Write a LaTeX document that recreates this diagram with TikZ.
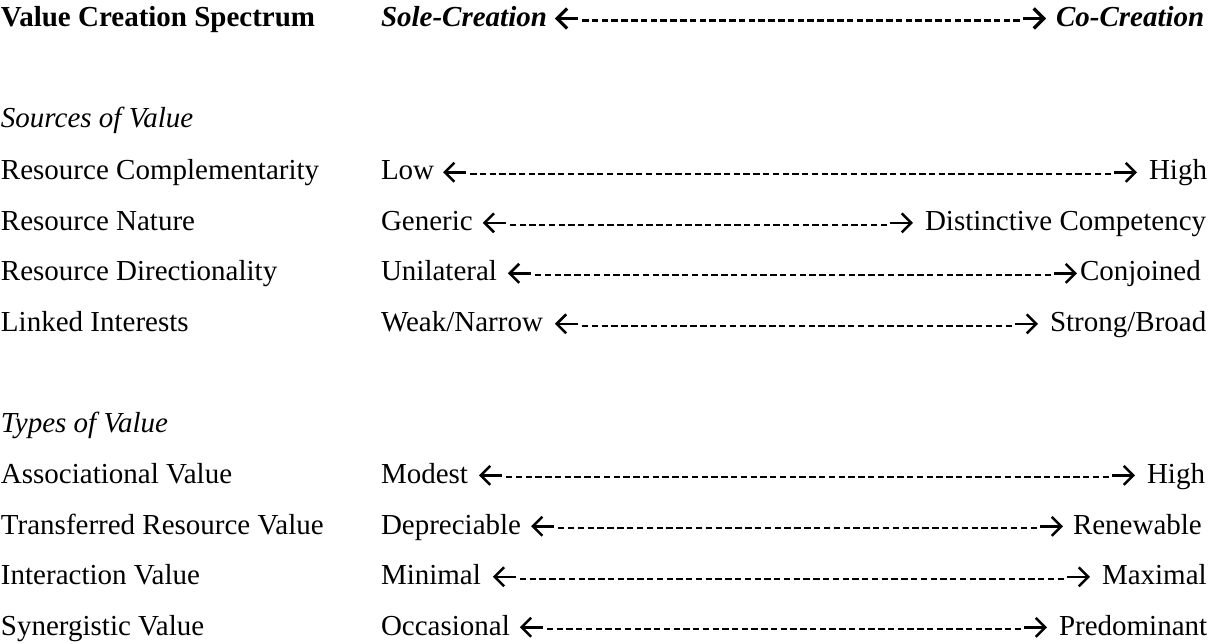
\documentclass[tikz,border=0pt]{standalone}
\usepackage{fontspec}
\setmainfont{Liberation Serif}
\usetikzlibrary{arrows.meta,calc}
\tikzset{
  x=1pt, y=1pt,
  txt/.style={anchor=base west, inner sep=0pt, outer sep=0pt, font=\fontsize{29}{35}\selectfont},
  headtxt/.style={txt, font=\fontsize{29}{35}\selectfont\bfseries},
  secttxt/.style={txt, font=\fontsize{29}{35}\selectfont\itshape},
  poletxt/.style={txt, font=\fontsize{29}{35}\selectfont\bfseries\itshape},
  arrowpart/.style={line width=2.5pt, -{Straight Barb[length=9.5pt,width=19pt]}},
  dashpart/.style={line width=2pt},
  boldarrowpart/.style={line width=3.2pt, -{Straight Barb[length=10pt,width=20pt]}},
  bolddashpart/.style={line width=3pt},
}
% #1 style, #2 start point, #3 end point, #4 dash length, #5 nominal period
\newcommand\evendash[5]{%
  \draw[#1] let \p1=#2, \p2=#3,
    \n1={int((\x2-\x1+#5-#4)/#5)},
    \n2={(\x2-\x1-\n1*#4)/(\n1-1)} in
    [dash pattern=on #4pt off \n2] (\p1) -- (\p2);
}
% #1 left node, #2 right node, #3 left gap, #4 right gap
\newcommand\rangeline[4]{%
  \draw[arrowpart] ([xshift=#3pt+23pt,yshift=7.7pt]#1.base east) -- ([xshift=#3pt,yshift=7.7pt]#1.base east);
  \draw[arrowpart] ([xshift=-#4pt-23pt,yshift=7.7pt]#2.base west) -- ([xshift=-#4pt,yshift=7.7pt]#2.base west);
  \evendash{dashpart}{([xshift=#3pt+27pt,yshift=5.8pt]#1.base east)}{([xshift=-#4pt-26pt,yshift=5.8pt]#2.base west)}{6.4}{9.67}
}
\begin{document}
\begin{tikzpicture}
\useasboundingbox (0,0) rectangle (1208,-644);
\clip (0,0) rectangle (1208,-644);

% header
\node[headtxt] (title) at (1,-27) {Value Creation Spectrum};
\node[poletxt] (sole) at (381,-27) {Sole-Creation};
\node[poletxt] (co) at (1056,-27) {Co-Creation};
\draw[boldarrowpart] ([xshift=31pt,yshift=8.5pt]sole.base east) -- ([xshift=8pt,yshift=8.5pt]sole.base east);
\draw[boldarrowpart] ([xshift=-33pt,yshift=8.5pt]co.base west) -- ([xshift=-10pt,yshift=8.5pt]co.base west);
\evendash{bolddashpart}{([xshift=35pt,yshift=6.8pt]sole.base east)}{([xshift=-36pt,yshift=6.8pt]co.base west)}{6.6}{9.67}

% Sources of Value
\node[secttxt] (sources) at (1,-128) {Sources of Value};

\node[txt] (rc) at (1,-180) {Resource Complementarity};
\node[txt] (rcl) at (381,-180) {Low};
\node[txt] (rcr) at (1149,-180) {High};
\rangeline{rcl}{rcr}{9}{12}

\node[txt] (rn) at (1,-230.5) {Resource Nature};
\node[txt] (rnl) at (381,-230.5) {Generic};
\node[txt] (rnr) at (925,-230.5) {Distinctive Competency};
\rangeline{rnl}{rnr}{10}{12}

\node[txt] (rd) at (1,-281) {Resource Directionality};
\node[txt] (rdl) at (381,-281) {Unilateral};
\node[txt] (rdr) at (1080,-281) {Conjoined};
\rangeline{rdl}{rdr}{11}{3}

\node[txt] (li) at (1,-331.5) {Linked Interests};
\node[txt] (lil) at (381,-331.5) {Weak/Narrow};
\node[txt] (lir) at (1050,-331.5) {Strong/Broad};
\rangeline{lil}{lir}{12}{12}

% Types of Value
\node[secttxt] (types) at (1,-432.5) {Types of Value};

\node[txt] (av) at (1,-483) {Associational Value};
\node[txt] (avl) at (381,-483) {Modest};
\node[txt] (avr) at (1147,-483) {High};
\rangeline{avl}{avr}{11}{12}

\node[txt] (tv) at (1,-534) {Transferred Resource Value};
\node[txt] (tvl) at (381,-534) {Depreciable};
\node[txt] (tvr) at (1073,-534) {Renewable};
\rangeline{tvl}{tvr}{10}{10}

\node[txt] (iv) at (1,-584.5) {Interaction Value};
\node[txt] (ivl) at (381,-584.5) {Minimal};
\node[txt] (ivr) at (1102,-584.5) {Maximal};
\rangeline{ivl}{ivr}{12}{12}

\node[txt] (sv) at (1,-635) {Synergistic Value};
\node[txt] (svl) at (381,-635) {Occasional};
\node[txt] (svr) at (1059,-635) {Predominant};
\rangeline{svl}{svr}{10}{12}
\end{tikzpicture}
\end{document}
